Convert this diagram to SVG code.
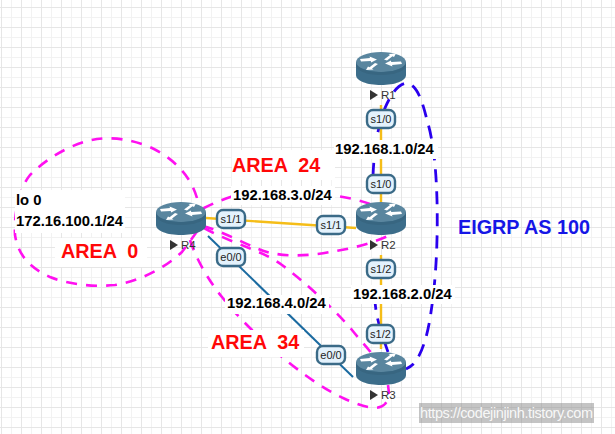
<svg xmlns="http://www.w3.org/2000/svg" width="615" height="434" viewBox="0 0 615 434">
<style>
.lbl{font-family:"Liberation Sans",Arial,sans-serif;font-weight:bold;font-size:14.800px;fill:#000;white-space:pre}
.area{font-family:"Liberation Sans",Arial,sans-serif;font-weight:bold;font-size:19.8px;fill:#ff0808;white-space:pre}
.pill rect{fill:#e4f2fc;stroke:#3a6a87;stroke-width:2.4}
.pill text{font-family:"Liberation Sans",Arial,sans-serif;font-size:11px;fill:#222;text-anchor:middle}
.name{font-family:"Liberation Sans",Arial,sans-serif;font-size:11.500px;fill:#333}
.yl{stroke:#f5bd18;stroke-width:2.400;fill:none}
.bl{stroke:#1a6aa0;stroke-width:2;fill:none}
.pk{stroke:#ff10f0;stroke-width:2.600;fill:none;stroke-dasharray:11 9}
.ei{stroke:#2a00ee;stroke-width:2.800;fill:none;stroke-dasharray:13 9}
.wb{fill:#fff}
</style>
<defs>
<pattern id="g" width="20" height="20" patternUnits="userSpaceOnUse">
<rect width="20" height="20" fill="#fff"/>
<path d="M11.500 0V20M0 17.500H20" stroke="#f2f2f2" stroke-width="1"/>
<path d="M1.500 0V20M0 7.500H20" stroke="#e6e6e6" stroke-width="1"/>
</pattern>
<g id="rt">
<path d="M0 10V23C0 29 11 33 25 33S50 29 50 23V10Z" fill="#3c6d8a"/>
<ellipse cx="25" cy="10" rx="25" ry="10" fill="#5a869f"/>
<path d="M0 10C0 16 11 20 25 20S50 16 50 10V13C50 19 39 23 25 23S0 19 0 13Z" fill="#386681"/>
<g fill="#fff">
<polygon points="4,7 14,6 13.500,4.500 21,7.500 15,10.500 14.800,9 5,9.500"/>
<polygon points="46,12 36,13 36.500,14.500 29,11.500 35,8.500 35.200,10 45,9.500"/>
<polygon points="28,7.500 34,3 32.500,2 40,1.500 38,5 36.500,4.200 31,8.500"/>
<polygon points="22,12 16,16.500 17.500,17.500 10,18 12,14.500 13.500,15.300 19,11"/>
</g>
</g>
</defs>
<rect width="615" height="434" fill="url(#g)"/>
<g id="connectors">
<path class="pk" d="M197 198C190 174 172 158 152 148C132 139 112 137 97 139C72 143 47 158 30 175C18 190 14 215 15 235C18 255 30 268 50 277C70 285 95 287 115 285C140 281 165 268 182 252L204 222"/>
<path class="pk" d="M370 204C350 196 300 190 265 190C240 192 220 200 204 208L200 216"/>
<path class="pk" d="M203 226C225 232 250 247 267 252C285 257 310 256 330 252C350 249 370 244 388 236"/>
<path class="pk" d="M204 228C235 245 262 250 282 265C305 282 335 310 352 330C360 340 366 346 372 354"/>
<path class="pk" d="M190 240C197 262 212 285 222 297C240 320 262 340 282 357C300 372 325 390 343 398C360 406 378 412 385 404C390 398 389 392 388 385"/>
<path class="ei" d="M388 352C382 335 376 318 375 301"/>
<path class="ei" d="M373 176C374 150 378 125 385 108C391 94 398 84 407 83C417 85 422 100 427 120C433 140 436 165 437 200C438 240 436 280 431 312C428 335 422 352 416 361C413 365 410 367 406 369"/>
<path class="yl" d="M206 218L356 228"/>
<path class="bl" d="M208 236L353 377"/>
<path class="yl" d="M381 105V202M381 255V349"/>
</g>
<g id="labels">
<rect class="wb" x="15" y="190" width="110" height="43"/>
<text class="lbl" x="16" y="205">lo 0</text>
<text class="lbl" x="16" y="226">172.16.100.1/24</text>
<rect class="wb" x="55" y="238" width="92" height="29"/>
<text class="area" x="61" y="258">AREA  0</text>
<rect class="wb" x="232" y="150" width="103" height="30"/>
<text class="area" x="232" y="172">AREA  24</text>
<rect class="wb" x="231" y="186" width="104" height="19"/>
<text class="lbl" x="233" y="200">192.168.3.0/24</text>
<rect class="wb" x="334" y="140" width="104" height="19"/>
<text class="lbl" x="335" y="154">192.168.1.0/24</text>
<rect class="wb" x="351" y="285" width="104" height="19"/>
<text class="lbl" x="353" y="299">192.168.2.0/24</text>
<rect class="wb" x="225" y="295" width="104" height="19"/>
<text class="lbl" x="227" y="308">192.168.4.0/24</text>
<rect class="wb" x="208" y="330" width="96" height="27"/>
<text class="area" x="211" y="349">AREA  34</text>
<text class="area" x="458" y="234" style="fill:#1616e6">EIGRP AS 100</text>
</g>
<g id="R1"><use href="#rt" x="356" y="52"/><polygon points="370,90 370,100 378,95" fill="#333"/><text class="name" x="381" y="99">R1</text></g>
<g id="R2"><use href="#rt" x="356" y="202"/><polygon points="370,240 370,250 378,245" fill="#333"/><text class="name" x="381" y="249">R2</text></g>
<g id="R3"><use href="#rt" x="356" y="352"/><polygon points="370,390 370,400 378,395" fill="#333"/><text class="name" x="381" y="399">R3</text></g>
<g id="R4"><use href="#rt" x="156" y="202"/><polygon points="170,240 170,250 178,245" fill="#333"/><text class="name" x="181" y="249">R4</text></g>
<g id="interfaces">
<g class="pill"><rect x="367" y="110" width="28" height="18" rx="6"/><text x="381" y="123">s1/0</text></g>
<g class="pill"><rect x="367" y="175" width="28" height="18" rx="6"/><text x="381" y="188">s1/0</text></g>
<g class="pill"><rect x="317" y="216" width="28" height="18" rx="6"/><text x="331" y="229">s1/1</text></g>
<g class="pill"><rect x="217" y="210" width="28" height="18" rx="6"/><text x="231" y="223">s1/1</text></g>
<g class="pill"><rect x="217" y="248" width="28" height="18" rx="6"/><text x="231" y="261">e0/0</text></g>
<g class="pill"><rect x="367" y="260" width="28" height="18" rx="6"/><text x="381" y="273">s1/2</text></g>
<g class="pill"><rect x="367" y="325" width="27" height="18" rx="6"/><text x="380.500" y="338">s1/2</text></g>
<g class="pill"><rect x="317" y="346" width="28" height="18" rx="6"/><text x="331" y="359">e0/0</text></g>
</g>
<g id="watermark">
<rect x="419" y="403" width="175" height="20" fill="#8a8a8a" fill-opacity=".5"/>
<text x="420" y="418" font-family="Liberation Sans,Arial,sans-serif" font-size="14.500" fill="#fff" fill-opacity=".9" textLength="173">https://codejinjinh.tistory.com</text>
</g>
</svg>
